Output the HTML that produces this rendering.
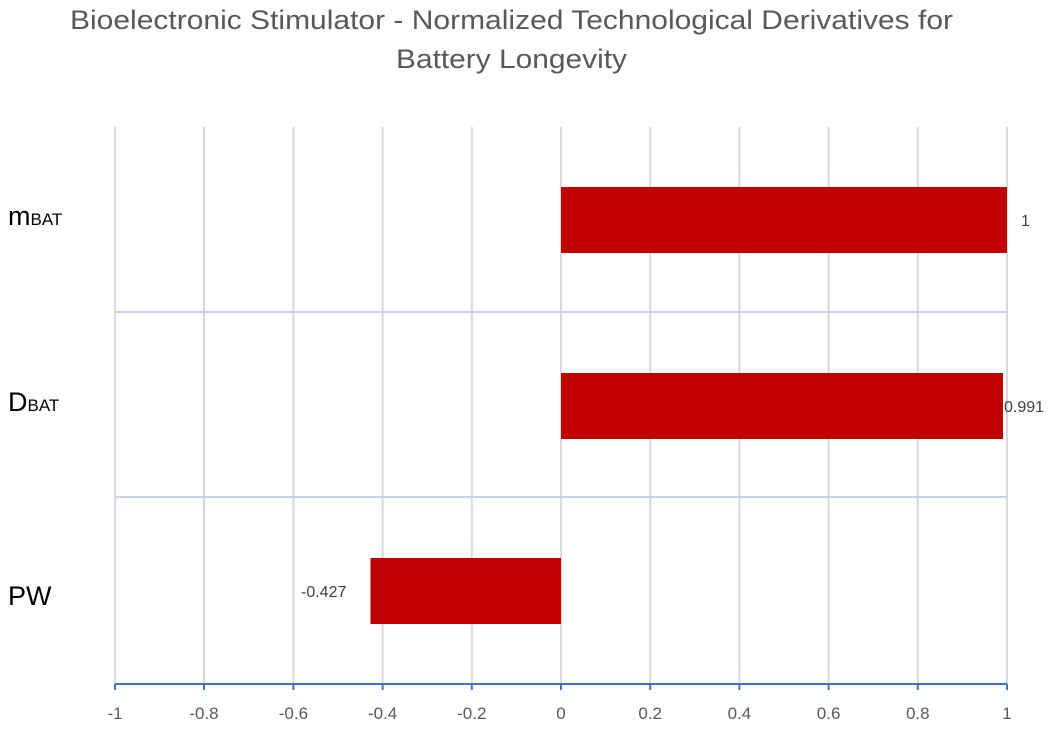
<!DOCTYPE html>
<html><head><meta charset="utf-8"><style>body{margin:0;background:#fff}svg{display:block}text{font-family:"Liberation Sans",sans-serif}</style></head><body>
<svg width="1063" height="730" xmlns="http://www.w3.org/2000/svg">
<text x="70" y="29" font-size="27" fill="#595959" textLength="883" lengthAdjust="spacingAndGlyphs">Bioelectronic Stimulator - Normalized Technological Derivatives for</text>
<text x="396" y="68" font-size="27" fill="#595959" textLength="231" lengthAdjust="spacingAndGlyphs">Battery Longevity</text>
<g stroke="#d9d9d9" stroke-width="2">
<line x1="115" y1="127" x2="115" y2="684"/><line x1="204" y1="127" x2="204" y2="684"/><line x1="293.4" y1="127" x2="293.4" y2="684"/><line x1="382.6" y1="127" x2="382.6" y2="684"/><line x1="471.8" y1="127" x2="471.8" y2="684"/><line x1="561" y1="127" x2="561" y2="684"/><line x1="650.2" y1="127" x2="650.2" y2="684"/><line x1="739.4" y1="127" x2="739.4" y2="684"/><line x1="828.6" y1="127" x2="828.6" y2="684"/><line x1="917.8" y1="127" x2="917.8" y2="684"/><line x1="1007" y1="127" x2="1007" y2="684"/>
</g>
<g stroke="#c9d3e8" stroke-width="2"><line x1="115" y1="312" x2="1007" y2="312"/><line x1="115" y1="497" x2="1007" y2="497"/></g>
<g fill="#c00000">
<rect x="561" y="187" width="446" height="66"/>
<rect x="561" y="373" width="442" height="66"/>
<rect x="370.5" y="558" width="190.5" height="66"/>
</g>
<g stroke="#4472c4" stroke-width="2"><line x1="115" y1="684" x2="1007" y2="684"/>
<line x1="115" y1="684" x2="115" y2="690"/><line x1="204" y1="684" x2="204" y2="690"/><line x1="293.4" y1="684" x2="293.4" y2="690"/><line x1="382.6" y1="684" x2="382.6" y2="690"/><line x1="471.8" y1="684" x2="471.8" y2="690"/><line x1="561" y1="684" x2="561" y2="690"/><line x1="650.2" y1="684" x2="650.2" y2="690"/><line x1="739.4" y1="684" x2="739.4" y2="690"/><line x1="828.6" y1="684" x2="828.6" y2="690"/><line x1="917.8" y1="684" x2="917.8" y2="690"/><line x1="1007" y1="684" x2="1007" y2="690"/></g>
<g font-size="17" fill="#595959" text-anchor="middle">
<text x="115" y="719">-1</text><text x="204" y="719">-0.8</text><text x="293.4" y="719">-0.6</text><text x="382.6" y="719">-0.4</text><text x="471.8" y="719">-0.2</text><text x="561" y="719">0</text><text x="650.2" y="719">0.2</text><text x="739.4" y="719">0.4</text><text x="828.6" y="719">0.6</text><text x="917.8" y="719">0.8</text><text x="1007" y="719">1</text>
</g>
<g font-size="16" fill="#404040">
<text x="1021" y="226">1</text><text x="1004" y="412">0.991</text><text x="301" y="597">-0.427</text>
</g>
<g fill="#000">
<text x="8" y="225" font-size="27">m<tspan font-size="17">BAT</tspan></text>
<text x="8" y="411" font-size="27">D<tspan font-size="17">BAT</tspan></text>
<text x="8" y="605" font-size="27">PW</text>
</g>
</svg>
</body></html>
